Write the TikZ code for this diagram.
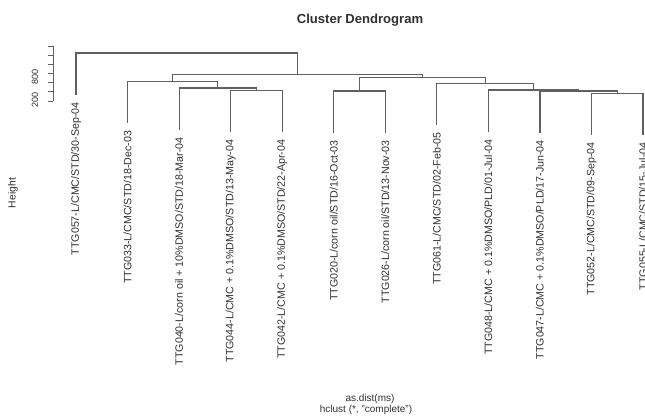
\documentclass[tikz,border=0pt]{standalone}
\usepackage{fontspec}
\setmainfont{Liberation Sans}
\usetikzlibrary{calc}
\definecolor{treegray}{HTML}{606060}
\definecolor{inkgray}{HTML}{303030}
\tikzset{
  branch/.style={draw=treegray, line width=0.9pt, line cap=rect},
  leaflabel/.style={rotate=90, anchor=east, inner sep=0pt, text=inkgray,
    font=\fontsize{8}{9.6}\selectfont},
  axisline/.style={draw=treegray, line width=0.7pt},
  ticklabel/.style={rotate=90, inner sep=0pt, text=inkgray,
    font=\fontsize{6.8}{8}\selectfont},
}
\begin{document}
\begin{tikzpicture}[x=0.75pt, y=-0.75pt]
  % canvas, pixel units with y pointing down
  \useasboundingbox (0,0) rectangle (645,417);

  % leaf ends
  \coordinate (l1)  at (76.0,94.0);
  \coordinate (l2)  at (127.5,122.7);
  \coordinate (l3)  at (179.1,129.0);
  \coordinate (l4)  at (230.6,131.5);
  \coordinate (l5)  at (282.2,131.5);
  \coordinate (l6)  at (333.7,132.0);
  \coordinate (l7)  at (385.3,132.0);
  \coordinate (l8)  at (436.8,124.3);
  \coordinate (l9)  at (488.4,131.0);
  \coordinate (l10) at (539.9,132.0);
  \coordinate (l11) at (591.5,134.3);
  \coordinate (l12) at (643.0,134.3);

  % merge points
  \coordinate (m1)  at (256.4,90.5);
  \coordinate (m2)  at (217.8,88.0);
  \coordinate (m3)  at (172.6,81.7);
  \coordinate (m4)  at (359.5,91.0);
  \coordinate (m5)  at (617.3,93.3);
  \coordinate (m6)  at (578.6,91.0);
  \coordinate (m7)  at (533.5,90.0);
  \coordinate (m8)  at (485.2,83.3);
  \coordinate (m9)  at (422.3,77.7);
  \coordinate (m10) at (297.5,74.5);
  \coordinate (m11) at (186.7,53.0);

  % branches
  \draw[branch] (l4) |- (m1) -| (l5);
  \draw[branch] (l3) |- (m2) -| (m1);
  \draw[branch] (l2) |- (m3) -| (m2);
  \draw[branch] (l6) |- (m4) -| (l7);
  \draw[branch] (l11) |- (m5) -| (l12);
  \draw[branch] (l10) |- (m6) -| (m5);
  \draw[branch] (l9) |- (m7) -| (m6);
  \draw[branch] (l8) |- (m8) -| (m7);
  \draw[branch] (m4) |- (m9) -| (m8);
  \draw[branch] (m3) |- (m10) -| (m9);
  \draw[branch] (l1) |- (m11) -| (m10);

  % leaf labels
  \node[leaflabel] (t1)  at ($(l1)+(0,8)$)  {TTG057-L/CMC/STD/30-Sep-04};
  \node[leaflabel] (t2)  at ($(l2)+(0,8)$)  {TTG033-L/CMC/STD/18-Dec-03};
  \node[leaflabel] (t3)  at ($(l3)+(0,8)$)  {TTG040-L/corn oil + 10\%DMSO/STD/18-Mar-04};
  \node[leaflabel] (t4)  at ($(l4)+(0,8)$)  {TTG044-L/CMC + 0.1\%DMSO/STD/13-May-04};
  \node[leaflabel] (t5)  at ($(l5)+(0,8)$)  {TTG042-L/CMC + 0.1\%DMSO/STD/22-Apr-04};
  \node[leaflabel] (t6)  at ($(l6)+(0,8)$)  {TTG020-L/corn oil/STD/16-Oct-03};
  \node[leaflabel] (t7)  at ($(l7)+(0,8)$)  {TTG026-L/corn oil/STD/13-Nov-03};
  \node[leaflabel] (t8)  at ($(l8)+(0,8)$)  {TTG061-L/CMC/STD/02-Feb-05};
  \node[leaflabel] (t9)  at ($(l9)+(0,8)$)  {TTG048-L/CMC + 0.1\%DMSO/PLD/01-Jul-04};
  \node[leaflabel] (t10) at ($(l10)+(0,8)$) {TTG047-L/CMC + 0.1\%DMSO/PLD/17-Jun-04};
  \node[leaflabel] (t11) at ($(l11)+(0,8)$) {TTG052-L/CMC/STD/09-Sep-04};
  \node[leaflabel] (t12) at ($(l12)+(0,8)$) {TTG055-L/CMC/STD/15-Jul-04};

  % height axis
  \coordinate (atop) at (53,46);
  \coordinate (abot) at (53,101);
  \draw[axisline] (atop) -- (abot);
  \foreach \k in {0,...,6}
    \draw[axisline] ($(atop)!\k/6!(abot)$) -- ++(-5,0);
  \node[ticklabel] (v800) at (35,77)  {800};
  \node[ticklabel] (v200) at (35,100) {200};

  % titles
  \node[font=\fontsize{9.8}{11}\selectfont\bfseries, text=inkgray] (title) at (360,20) {Cluster Dendrogram};
  \node[rotate=90, font=\fontsize{7.8}{9}\selectfont, text=inkgray] (ylab) at (13,193) {Height};
  \node[font=\fontsize{7.5}{9}\selectfont, text=inkgray] (xlab) at (370,399) {as.dist(ms)};
  \node[font=\fontsize{7.5}{9}\selectfont, text=inkgray] (sub) at (366,410) {hclust (*, "complete")};
\end{tikzpicture}
\end{document}
